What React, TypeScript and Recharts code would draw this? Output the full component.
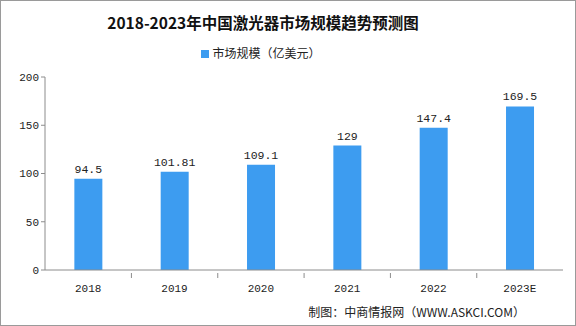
import { Bar, BarChart, LabelList, XAxis, YAxis } from "recharts";

const years = ["2018", "2019", "2020", "2021", "2022", "2023E"];
const marketSize = [94.5, 101.81, 109.1, 129, 147.4, 169.5];
const yTicks = [0, 50, 100, 150, 200];

const data = years.map((year, i) => ({ year, value: marketSize[i] }));

const W = 576;
const H = 326;
const margin = { top: 77, right: 13, left: 0, bottom: 26 };
const step = (W - 44 - margin.right) / years.length;
const axisColor = "#8c8c8c";
const barColor = "#3d9cf0";
const numFont = "'Liberation Mono', 'DejaVu Sans Mono', monospace";
const cjkFont = "'Noto Sans CJK SC', sans-serif";

const XTick = (props: any) => {
  const { x, y, payload, index } = props;
  return (
    <g>
      {index < years.length - 1 && (
        <line x1={x + step / 2} x2={x + step / 2} y1={y} y2={y - 5} stroke={axisColor} />
      )}
      <text x={x} y={y + 14} textAnchor="middle" fontSize={11} fontFamily={numFont} fill="#222">
        {payload.value}
      </text>
    </g>
  );
};

export default function App() {
  return (
    <div
      style={{
        position: "absolute",
        left: 0,
        top: 0,
        width: W,
        height: H,
        border: "1px solid #9a9a9a",
        boxSizing: "border-box",
        background: "#fff",
        overflow: "hidden",
      }}
    >
      <div
        style={{
          position: "absolute",
          left: 0,
          top: 10,
          width: 524,
          textAlign: "center",
          fontFamily: cjkFont,
          fontWeight: 700,
          fontSize: 15.5,
          color: "#111",
        }}
      >
        2018-2023年中国激光器市场规模趋势预测图
      </div>
      <div
        style={{
          position: "absolute",
          left: 0,
          top: 43,
          width: 520,
          textAlign: "center",
          fontFamily: cjkFont,
          fontSize: 12,
          color: "#222",
        }}
      >
        <span
          style={{
            display: "inline-block",
            width: 8,
            height: 8,
            background: barColor,
            marginRight: 3,
            verticalAlign: "middle",
            position: "relative",
            top: -1,
          }}
        />
        市场规模（亿美元）
      </div>
      <div style={{ position: "absolute", left: -1, top: -1 }}>
        <BarChart width={W} height={H} data={data} margin={margin} barCategoryGap="34%">
          <XAxis
            dataKey="year"
            interval={0}
            tickLine={false}
            axisLine={{ stroke: axisColor }}
            tick={<XTick />}
            height={30}
          />
          <YAxis
            domain={[0, 200]}
            ticks={yTicks}
            interval={0}
            tickSize={4}
            axisLine={{ stroke: axisColor }}
            tickLine={{ stroke: axisColor }}
            tick={{ fill: "#222", fontSize: 11, fontFamily: numFont }}
            width={45}
          />
          <Bar dataKey="value" name="市场规模（亿美元）" fill={barColor} isAnimationActive={false}>
            <LabelList
              dataKey="value"
              position="top"
              offset={6}
              style={{ fill: "#222", fontSize: 11.5, fontFamily: numFont }}
            />
          </Bar>
        </BarChart>
      </div>
      <div
        style={{
          position: "absolute",
          right: 50,
          top: 302,
          fontFamily: cjkFont,
          fontSize: 12,
          color: "#222",
        }}
      >
        制图：中商情报网（WWW.ASKCI.COM）
      </div>
    </div>
  );
}
